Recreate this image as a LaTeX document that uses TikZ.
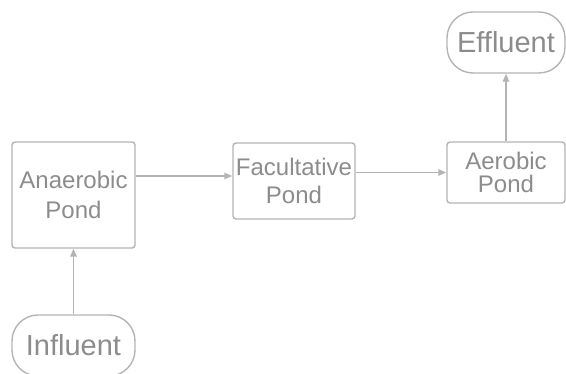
\documentclass[tikz,border=0pt]{standalone}
\usepackage{fontspec}
\setmainfont{Liberation Sans}
\usetikzlibrary{arrows.meta}
\definecolor{edge}{HTML}{B4B4B4}
\definecolor{txt}{HTML}{8C8C8C}
\tikzset{
  pond/.style={draw=edge, line width=1.4pt, rounded corners=3pt, text=txt, align=center, inner sep=0pt},
  term/.style={draw=edge, line width=1.4pt, rounded corners=26pt, text=txt, inner sep=0pt,
    minimum width=118pt, minimum height=61pt, font=\fontsize{29}{33}\selectfont},
  arr/.style={draw=edge, line width=1.4pt, -{Triangle[length=8pt,width=6.5pt]}}
}
\begin{document}
\begin{tikzpicture}[x=1pt,y=1pt]
\useasboundingbox (0,0) rectangle (566,374);
\node[pond, minimum width=123pt, minimum height=106pt, font=\fontsize{24}{30}\selectfont] (ana) at (73.5,179) {Anaerobic\\Pond};
\node[pond, minimum width=122pt, minimum height=76pt, font=\fontsize{24}{28}\selectfont] (fac) at (294,193) {Facultative\\Pond};
\node[pond, minimum width=118pt, minimum height=61pt, font=\fontsize{24}{23}\selectfont] (aer) at (506,201.5) {Aerobic\\Pond};
\node[term] (eff) at (506,331.5) {Effluent};
\node[term, minimum width=123pt] (inf) at (73.5,28.5) {Influent};
\coordinate (f1) at ([yshift=5pt]fac.west);
\draw[arr] (inf.north) -- (ana.south);
\draw[arr] (f1 -| ana.east) -- (f1);
\draw[arr] (aer.west -| fac.east) -- (aer.west);
\draw[arr] (aer.north) -- (eff.south);
\end{tikzpicture}
\end{document}
